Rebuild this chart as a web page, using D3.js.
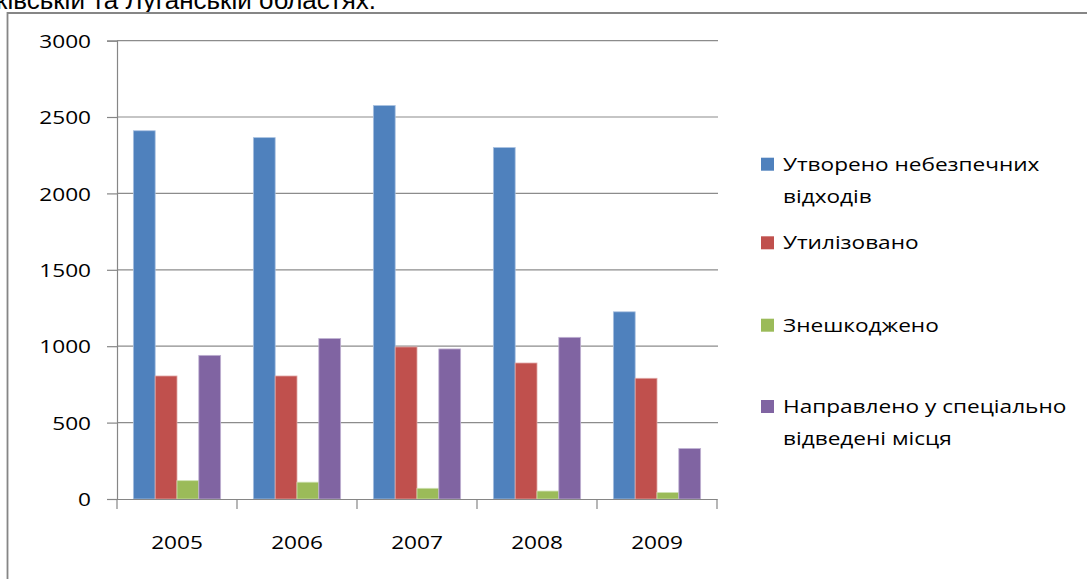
<!DOCTYPE html>
<html>
<head>
<meta charset="utf-8">
<script src="https://cdn.jsdelivr.net/npm/d3@7"></script>
<style>
  body { margin: 0; background: #fff; }
  svg { display: block; }
</style>
</head>
<body>
<script>
// chart data
var years = ["2005", "2006", "2007", "2008", "2009"];
var seriesNames = [
  ["Утворено небезпечних", "відходів"],
  ["Утилізовано"],
  ["Знешкоджено"],
  ["Направлено у спеціально", "відведені місця"]
];
var created  = [2410, 2365, 2575, 2300, 1225];
var utilized = [805, 805, 995, 890, 790];
var neutral  = [120, 110, 70, 52, 42];
var directed = [940, 1050, 982, 1058, 330];
var colors = ["#4f81bd", "#c0504d", "#9bbb59", "#8064a2"];
var strokes = ["#a9c1e0", "#e0a8a6", "#cde0ae", "#bfb1d2"];
var yTicks = [0, 500, 1000, 1500, 2000, 2500, 3000];

var w = 1087, h = 579;
var sx = 1.19; // horizontal stretch of the text, like the reference
var font = "'Open Sans', sans-serif";

var svg = d3.select("body").append("svg")
  .attr("width", w)
  .attr("height", h);

// cut off caption above the chart
svg.append("text")
  .attr("x", 376).attr("y", 8.5)
  .attr("text-anchor", "end")
  .attr("font-family", "'Liberation Sans', Arial, sans-serif")
  .attr("font-size", 26)
  .attr("fill", "#000")
  .text("Харківській та Луганській областях.");

// chart frame
svg.append("path")
  .attr("d", "M7.5," + h + "V13H" + w)
  .attr("fill", "none")
  .attr("stroke", "#868686")
  .attr("stroke-width", 1.8);

var plotL = 117, plotR = 717, plotT = 40.6, plotB = 499;

var x = d3.scaleBand().domain(years).range([plotL, plotR]).padding(0);
var y = d3.scaleLinear().domain([0, 3000]).range([plotB, plotT]);

// gridlines
svg.append("g").selectAll("line")
  .data(yTicks.filter(function(d) { return d > 0; }))
  .enter().append("line")
  .attr("x1", plotL).attr("x2", plotR + 1)
  .attr("y1", function(d) { return y(d); })
  .attr("y2", function(d) { return y(d); })
  .attr("stroke", "#8c8c8c")
  .attr("stroke-width", 1.2);

// bars
var data = [created, utilized, neutral, directed];
var barW = x.bandwidth() / 5.5;
var offset = (x.bandwidth() - 4 * barW) / 2;

data.forEach(function(vals, s) {
  svg.append("g").selectAll("rect")
    .data(vals)
    .enter().append("rect")
    .attr("x", function(d, i) { return x(years[i]) + offset + s * barW; })
    .attr("y", function(d) { return y(d); })
    .attr("width", barW)
    .attr("height", function(d) { return y(0) - y(d); })
    .attr("fill", colors[s])
    .attr("stroke", strokes[s])
    .attr("stroke-width", 0.8);
});

// y axis
var yAxis = svg.append("g")
  .attr("transform", "translate(" + plotL + ",0)")
  .call(d3.axisLeft(y).tickValues(yTicks).tickSize(10).tickFormat(d3.format("d")));
yAxis.select(".domain").attr("stroke", "#868686").attr("stroke-width", 1.2);
yAxis.selectAll(".tick line").attr("stroke", "#868686").attr("stroke-width", 1.2);
yAxis.selectAll(".tick text")
  .attr("x", -26 / sx)
  .attr("dy", "0.35em")
  .attr("transform", "scale(" + sx + ",1)")
  .attr("font-family", font)
  .attr("font-size", 19)
  .attr("fill", "#000");

// x axis
var xAxis = svg.append("g")
  .attr("transform", "translate(0," + plotB + ")")
  .call(d3.axisBottom(x).tickSize(0));
xAxis.select(".domain").attr("stroke", "#868686").attr("stroke-width", 1.2);
xAxis.selectAll(".tick text")
  .attr("y", 50.5)
  .attr("dy", null)
  .attr("transform", "scale(" + sx + ",1)")
  .attr("font-family", font)
  .attr("font-size", 19)
  .attr("fill", "#000");

// category boundary ticks
var bounds = years.map(function(d) { return x(d); }).concat([plotR]);
svg.append("g").selectAll("line")
  .data(bounds)
  .enter().append("line")
  .attr("x1", function(d) { return d; })
  .attr("x2", function(d) { return d; })
  .attr("y1", plotB).attr("y2", plotB + 10)
  .attr("stroke", "#868686")
  .attr("stroke-width", 1.2);

// legend
var legendY = [170.7, 249.3, 331.7, 413];
var legend = svg.append("g");
seriesNames.forEach(function(lines, i) {
  legend.append("rect")
    .attr("x", 761).attr("y", legendY[i] - 13)
    .attr("width", 13).attr("height", 13)
    .attr("fill", colors[i]);
  lines.forEach(function(t, j) {
    legend.append("text")
      .attr("transform", "translate(783," + (legendY[i] + j * 32) + ") scale(" + sx + ",1)")
      .attr("font-family", font)
      .attr("font-size", 19)
      .attr("fill", "#000")
      .text(t);
  });
});
</script>
</body>
</html>
